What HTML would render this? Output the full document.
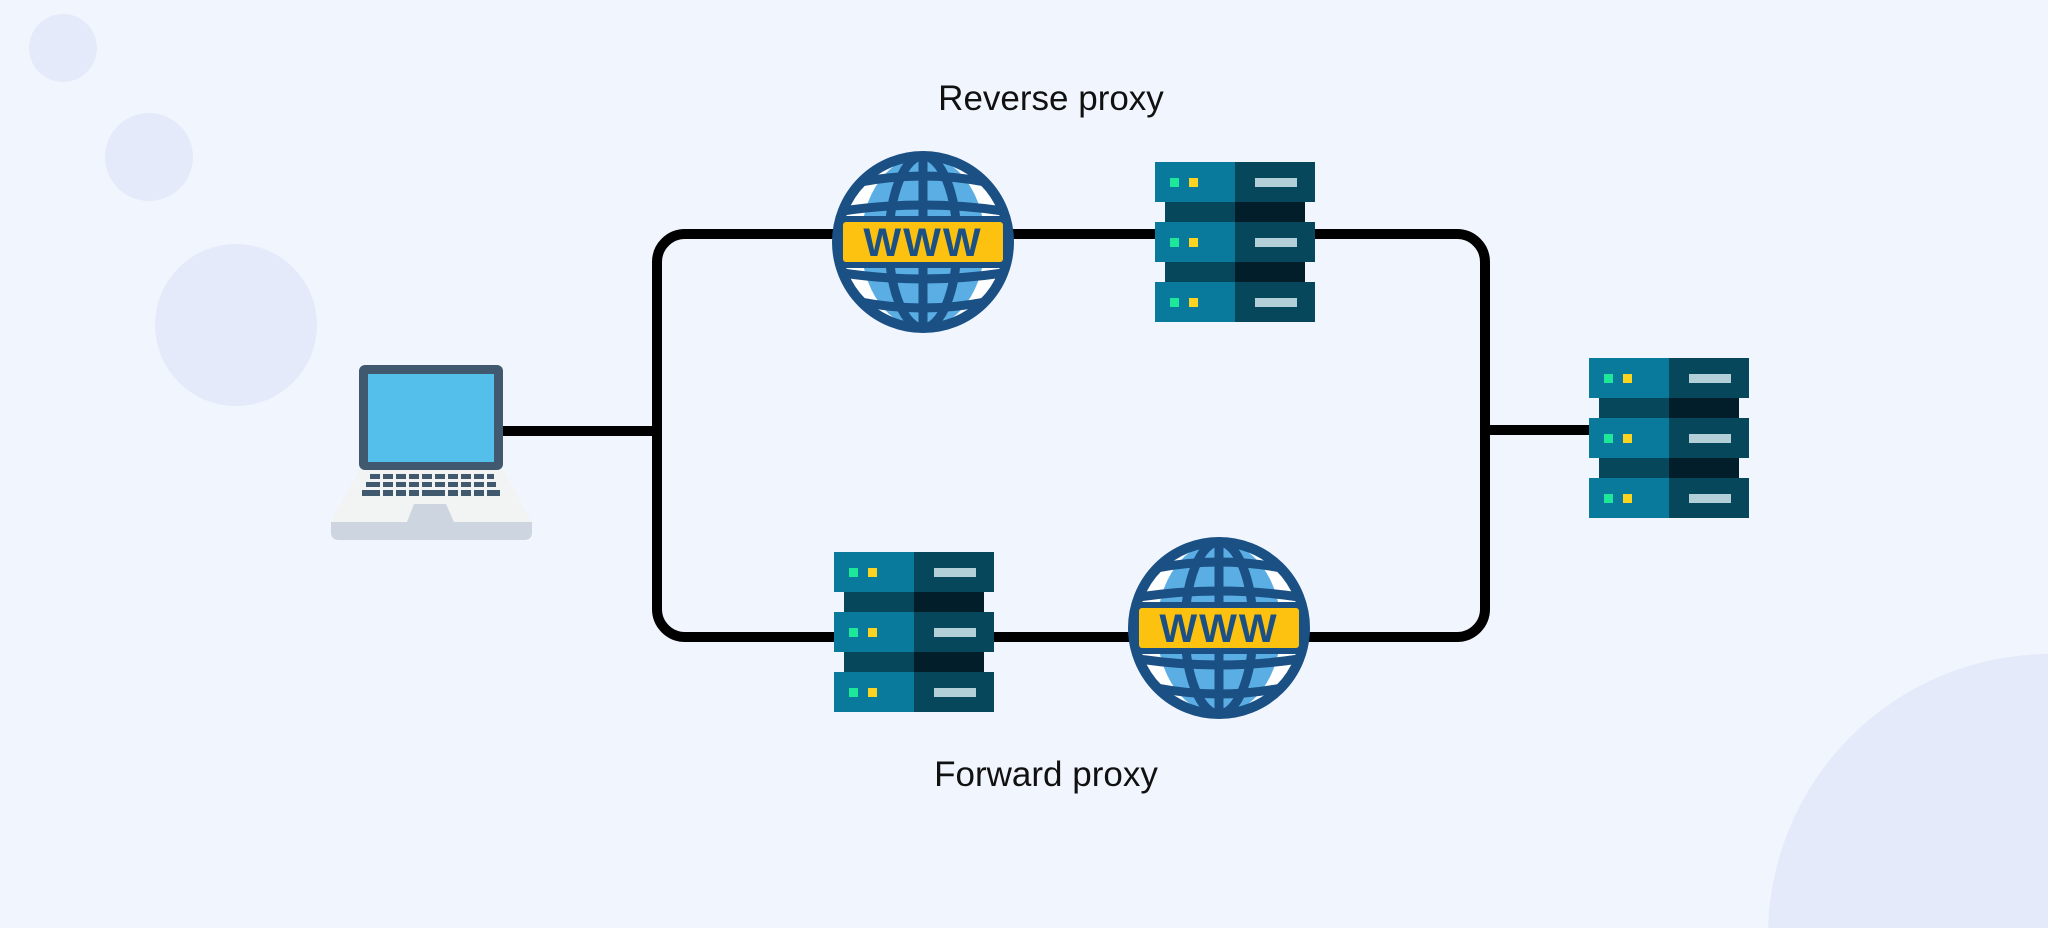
<!DOCTYPE html>
<html><head><meta charset="utf-8"><style>
html,body{margin:0;padding:0;background:#f1f5fe;width:2048px;height:928px;overflow:hidden;}
svg{display:block;}
</style></head><body>
<svg width="2048" height="928" viewBox="0 0 2048 928" xmlns="http://www.w3.org/2000/svg">
<defs>
<g id="globe">
  <circle cx="0" cy="0" r="86" fill="#ffffff"/>
  <ellipse cx="0" cy="0" rx="62" ry="86" fill="#5aaee3"/>
  <circle cx="0" cy="0" r="86" fill="none" stroke="#1b5085" stroke-width="10"/>
  <ellipse cx="0" cy="0" rx="34" ry="86" fill="none" stroke="#1b5085" stroke-width="9"/>
  <line x1="0" y1="-86" x2="0" y2="86" stroke="#1b5085" stroke-width="9"/>
  <path d="M-62,-60 Q0,-72 62,-60" fill="none" stroke="#1b5085" stroke-width="9"/>
  <path d="M-80,-31 Q0,-43 80,-31" fill="none" stroke="#1b5085" stroke-width="9"/>
  <path d="M-80,31 Q0,43 80,31" fill="none" stroke="#1b5085" stroke-width="9"/>
  <path d="M-62,60 Q0,72 62,60" fill="none" stroke="#1b5085" stroke-width="9"/>
  <rect x="-88" y="-26" width="176" height="52" rx="6" fill="#1b5085"/>
  <rect x="-80" y="-20" width="160" height="40" rx="3" fill="#fcc20f"/>
  <text x="0" y="14" text-anchor="middle" font-family="Liberation Sans, sans-serif" font-weight="bold" font-size="40" fill="#1b5085" letter-spacing="2">WWW</text>
</g>
<g id="server">
  <rect x="10" y="40" width="140" height="20" fill="#07475b"/>
  <rect x="80" y="40" width="70" height="20" fill="#021e2a"/>
  <rect x="10" y="100" width="140" height="20" fill="#07475b"/>
  <rect x="80" y="100" width="70" height="20" fill="#021e2a"/>
  <g id="unit">
    <rect x="0" y="0" width="80" height="40" fill="#0a7a9c"/>
    <rect x="80" y="0" width="80" height="40" fill="#07475b"/>
    <rect x="15" y="16" width="9" height="9" fill="#1de89a"/>
    <rect x="34" y="16" width="9" height="9" fill="#fdd321"/>
    <rect x="100" y="16" width="42" height="9" fill="#b3d0d8"/>
  </g>
  <use href="#unit" y="60"/>
  <use href="#unit" y="120"/>
</g>
</defs>

<circle cx="63" cy="48" r="34" fill="#e4eaf9"/>
<circle cx="149" cy="157" r="44" fill="#e4eaf9"/>
<circle cx="236" cy="325" r="81" fill="#e4eaf9"/>
<circle cx="2050" cy="936" r="282" fill="#e4eaf9"/>

<rect x="657" y="234" width="828" height="403" rx="28" fill="none" stroke="#000" stroke-width="10"/>
<line x1="500" y1="431" x2="657" y2="431" stroke="#000" stroke-width="10"/>
<line x1="1485" y1="430" x2="1590" y2="430" stroke="#000" stroke-width="10"/>

<g>
  <path d="M359,470 L503,470 L532,522 L331,522 Z" fill="#f2f3f3"/>
  <path d="M331,522 L532,522 L532,532 Q532,540 524,540 L339,540 Q331,540 331,532 Z" fill="#cdd6e0"/>
  <rect x="359" y="365" width="144" height="105" rx="6" fill="#41596e"/>
  <rect x="368" y="374" width="126" height="88" fill="#54bfea"/>
  <g fill="#41596e">
    <rect x="370" y="474" width="124" height="5"/>
    <rect x="366" y="482" width="130" height="5"/>
    <rect x="362" y="490" width="138" height="6"/>
  </g>
  <g fill="#f2f3f3">
    <rect x="380" y="472" width="3" height="26"/><rect x="393" y="472" width="3" height="26"/>
    <rect x="406" y="472" width="3" height="26"/><rect x="419" y="472" width="3" height="26"/>
    <rect x="432" y="472" width="3" height="18"/><rect x="445" y="472" width="3" height="26"/>
    <rect x="458" y="472" width="3" height="26"/><rect x="471" y="472" width="3" height="26"/>
    <rect x="484" y="472" width="3" height="26"/>
  </g>
  <path d="M414,504 L446,504 L454,522 L407,522 Z" fill="#cdd6e0"/>
</g>

<use href="#globe" x="923" y="242"/>
<use href="#server" x="1155" y="162"/>
<use href="#server" x="834" y="552"/>
<use href="#globe" x="1219" y="628"/>
<use href="#server" x="1589" y="358"/>

<text x="1051" y="110" text-anchor="middle" font-family="Liberation Sans, sans-serif" font-size="35" fill="#111">Reverse proxy</text>
<text x="1046" y="786" text-anchor="middle" font-family="Liberation Sans, sans-serif" font-size="35" fill="#111">Forward proxy</text>
</svg>
</body></html>
